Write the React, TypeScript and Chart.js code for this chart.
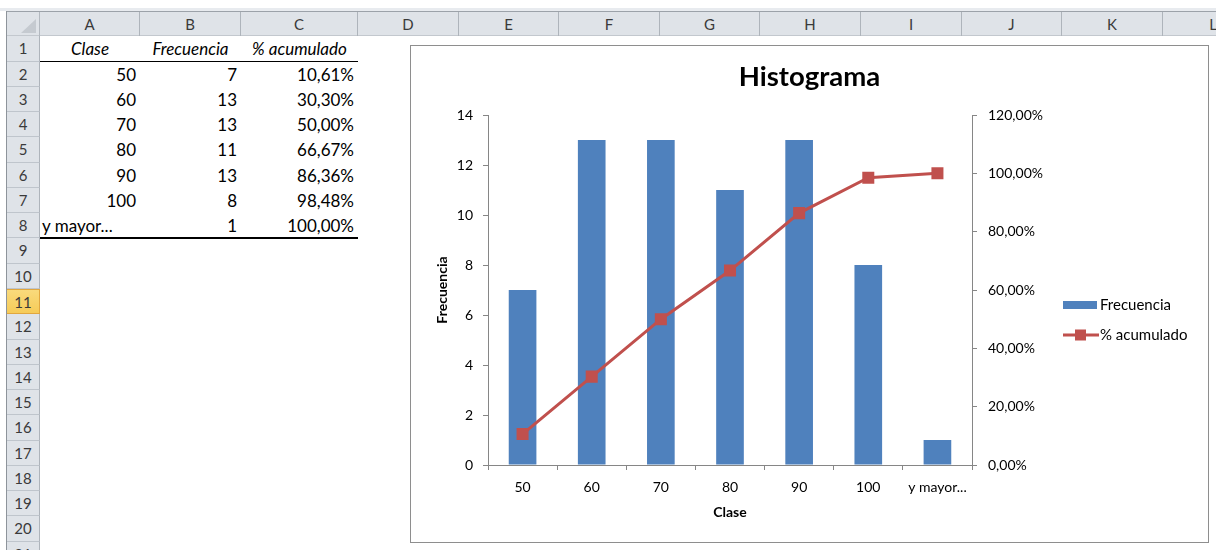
import React, { useEffect, useRef } from "react";
import { Chart, registerables } from "chart.js";

Chart.register(...registerables);

// ---------- data ----------
const categories = ["50", "60", "70", "80", "90", "100", "y mayor..."];
const frecuencia = [7, 13, 13, 11, 13, 8, 1];
const acumulado = [10.61, 30.3, 50.0, 66.67, 86.36, 98.48, 100.0];
const tableHeaders = ["Clase", "Frecuencia", "% acumulado"];
const columnLetters = ["A", "B", "C", "D", "E", "F", "G", "H", "I", "J", "K", "L"];
const leftAxisMax = 14;
const leftAxisStep = 2;
const rightAxisMax = 120;
const rightAxisStep = 20;
const chartTitle = "Histograma";
const xTitle = "Clase";
const yTitle = "Frecuencia";

const fmtPct = (v: number) => v.toFixed(2).replace(".", ",") + "%";

// ---------- layout ----------
const FONT = "Lato, 'Liberation Sans', sans-serif";
const colEdges = [40, 140, 241, 358, 459, 559, 660, 760, 861, 962, 1062, 1163, 1264];
const ROW_TOP = 36.4;
const ROW_H = 25.26;
const ROW_COUNT = 21;
const SELECTED_ROW = 11;

const BAR_COLOR = "#4F81BD";
const LINE_COLOR = "#C0504D";
const AXIS_COLOR = "#868686";

function HistogramChart() {
  const ref = useRef<HTMLCanvasElement>(null);
  useEffect(() => {
    if (!ref.current) return;
    const legendPlugin = {
      id: "excelLegend",
      afterDraw(chart: any) {
        const ctx = chart.ctx as CanvasRenderingContext2D;
        const ds = chart.data.datasets;
        const barDs = ds.find((d: any) => d.type === "bar");
        const lineDs = ds.find((d: any) => d.type === "line");
        ctx.save();
        ctx.font = `15px ${FONT}`;
        ctx.textBaseline = "middle";
        ctx.textAlign = "left";
        // bar entry
        ctx.fillStyle = barDs.backgroundColor;
        ctx.fillRect(652, 255, 34, 8);
        ctx.fillStyle = "#000";
        ctx.fillText(barDs.label, 689, 259);
        // line entry
        ctx.strokeStyle = lineDs.borderColor;
        ctx.lineWidth = 3;
        ctx.beginPath();
        ctx.moveTo(652, 289);
        ctx.lineTo(688, 289);
        ctx.stroke();
        ctx.fillStyle = lineDs.backgroundColor;
        ctx.fillRect(664, 283.5, 11, 11);
        ctx.fillStyle = "#000";
        ctx.fillText(lineDs.label, 689, 289);
        ctx.restore();
      },
    };

    const tickFont = { family: FONT, size: 14 };
    const titleFont = { family: FONT, size: 14, weight: "bold" as const };

    const chart = new Chart(ref.current, {
      data: {
        labels: categories,
        datasets: [
          {
            type: "line",
            label: "% acumulado",
            data: acumulado,
            yAxisID: "y1",
            borderColor: LINE_COLOR,
            backgroundColor: LINE_COLOR,
            borderWidth: 3,
            pointStyle: "rect",
            pointRadius: 8.5,
            pointBorderWidth: 0,
            pointBackgroundColor: LINE_COLOR,
            tension: 0,
            order: 0,
          } as any,
          {
            type: "bar",
            label: "Frecuencia",
            data: frecuencia,
            yAxisID: "y",
            backgroundColor: BAR_COLOR,
            barPercentage: 0.4,
            categoryPercentage: 1,
            order: 1,
          } as any,
        ],
      },
      options: {
        animation: false,
        responsive: false,
        maintainAspectRatio: false,
        layout: { padding: 0 },
        events: [],
        plugins: {
          legend: { display: false },
          tooltip: { enabled: false },
          title: {
            display: true,
            text: chartTitle,
            color: "#000",
            font: { family: FONT, size: 27.5, weight: "bold" },
            padding: { top: 14.5, bottom: 21.5 },
          },
        },
        scales: {
          x: {
            type: "category",
            offset: true,
            grid: {
              display: true,
              offset: true,
              drawOnChartArea: false,
              drawTicks: true,
              tickLength: 5,
              color: AXIS_COLOR,
            },
            border: { display: true, color: AXIS_COLOR },
            ticks: { font: tickFont, color: "#000", padding: 9, maxRotation: 0, autoSkip: false },
            title: {
              display: true,
              text: xTitle,
              color: "#000",
              font: titleFont,
              padding: { top: 0, bottom: 21.6 },
            },
            afterFit: (s: any) => {
              s.height = 77;
            },
          },
          y: {
            type: "linear",
            position: "left",
            min: 0,
            max: leftAxisMax,
            grid: {
              display: true,
              drawOnChartArea: false,
              drawTicks: true,
              tickLength: 5,
              color: AXIS_COLOR,
            },
            border: { display: true, color: AXIS_COLOR },
            ticks: { stepSize: leftAxisStep, font: tickFont, color: "#000", padding: 10 },
            title: {
              display: true,
              text: yTitle,
              color: "#000",
              font: titleFont,
              padding: { top: 22.6, bottom: 0 },
            },
            afterFit: (s: any) => {
              s.width = 77;
            },
          },
          y1: {
            type: "linear",
            position: "right",
            min: 0,
            max: rightAxisMax,
            grid: {
              display: true,
              drawOnChartArea: false,
              drawTicks: true,
              tickLength: 5,
              color: AXIS_COLOR,
            },
            border: { display: true, color: AXIS_COLOR },
            ticks: {
              stepSize: rightAxisStep,
              font: tickFont,
              color: "#000",
              padding: 11,
              callback: (v: any) => fmtPct(Number(v)),
            },
            afterFit: (s: any) => {
              s.width = 236;
            },
          },
        },
      },
      plugins: [legendPlugin],
    } as any);
    return () => chart.destroy();
  }, []);
  return <canvas ref={ref} width={797} height={496} style={{ display: "block", width: 797, height: 496 }} />;
}

function Sheet() {
  const els: React.ReactNode[] = [];
  const rowTop = (r: number) => ROW_TOP + (r - 1) * ROW_H;

  // top band
  els.push(<div key="band" style={{ position: "absolute", left: 0, top: 8, width: 1216, height: 3, background: "#E8EBEF" }} />);
  // header row background
  els.push(
    <div
      key="hdr"
      style={{
        position: "absolute",
        left: 7,
        top: 11,
        width: 1216,
        height: 25.4,
        background: "#DFE3E8",
        borderTop: "1px solid #9CA2A9",
        borderBottom: "1px solid #C3C8CE",
        boxSizing: "border-box",
      }}
    />
  );
  // left vertical line
  els.push(<div key="vl" style={{ position: "absolute", left: 6, top: 11, width: 1, height: 540, background: "#8E949B" }} />);
  // corner
  els.push(
    <div
      key="corner"
      style={{ position: "absolute", left: 7, top: 12, width: 33, height: 24, borderRight: "1px solid #B3B9C0", boxSizing: "border-box" }}
    />
  );
  els.push(
    <div
      key="tri"
      style={{
        position: "absolute",
        left: 21,
        top: 19,
        width: 0,
        height: 0,
        borderBottom: "14px solid #C5CAD0",
        borderLeft: "15px solid transparent",
      }}
    />
  );
  // column headers
  columnLetters.forEach((c, i) => {
    const l = colEdges[i];
    const w = colEdges[i + 1] - l;
    els.push(
      <div
        key={"c" + c}
        style={{
          position: "absolute",
          left: l,
          top: 12,
          width: w,
          height: 24,
          lineHeight: "24px",
          textAlign: "center",
          fontSize: 15,
          color: "#3A3A3A",
          borderRight: "1px solid #AEB4BB",
          boxSizing: "border-box",
        }}
      >
        {c}
      </div>
    );
  });
  // row headers
  for (let r = 1; r <= ROW_COUNT; r++) {
    const sel = r === SELECTED_ROW;
    els.push(
      <div
        key={"r" + r}
        style={{
          position: "absolute",
          left: 7,
          top: rowTop(r),
          width: 33,
          height: ROW_H,
          lineHeight: ROW_H + "px",
          textAlign: "center",
          fontSize: 15,
          color: "#3A3A3A",
          background: sel ? "linear-gradient(#F9DA7C, #F6CB58)" : "#DFE3E8",
          borderBottom: sel ? "1px solid #E1A73F" : "1px solid #BFC5CC",
          borderTop: sel ? "1px solid #E1A73F" : "none",
          borderRight: sel ? "1px solid #E1A73F" : "1px solid #AEB4BB",
          boxSizing: "border-box",
        }}
      >
        {r}
      </div>
    );
  }
  // table cells
  const cellStyle = (col: number, row: number, align: "left" | "right" | "center", italic = false): React.CSSProperties => ({
    position: "absolute",
    left: colEdges[col] + 2,
    top: rowTop(row),
    width: colEdges[col + 1] - colEdges[col] - 6,
    height: ROW_H,
    lineHeight: ROW_H + "px",
    textAlign: align,
    fontSize: 17,
    fontStyle: italic ? "italic" : "normal",
    color: "#000",
    whiteSpace: "nowrap",
    overflow: "visible",
  });
  tableHeaders.forEach((h, i) => {
    els.push(
      <div key={"h" + i} style={{ ...cellStyle(i, 1, "center", true), left: colEdges[i], width: colEdges[i + 1] - colEdges[i] }}>
        {h}
      </div>
    );
  });
  categories.forEach((cat, i) => {
    const row = i + 2;
    const isNum = !isNaN(Number(cat));
    els.push(
      <div key={"a" + i} style={isNum ? cellStyle(0, row, "right") : { ...cellStyle(0, row, "left"), left: colEdges[0] + 2 }}>
        {cat}
      </div>
    );
    els.push(
      <div key={"b" + i} style={cellStyle(1, row, "right")}>
        {frecuencia[i]}
      </div>
    );
    els.push(
      <div key={"p" + i} style={cellStyle(2, row, "right")}>
        {fmtPct(acumulado[i])}
      </div>
    );
  });
  // borders under header row and last row
  els.push(
    <div key="b1" style={{ position: "absolute", left: colEdges[0], top: rowTop(2) - 1, width: colEdges[3] - colEdges[0], height: 1, background: "#000" }} />
  );
  els.push(
    <div
      key="b8"
      style={{ position: "absolute", left: colEdges[0], top: rowTop(9) - 1.5, width: colEdges[3] - colEdges[0], height: 2, background: "#000" }}
    />
  );
  return <>{els}</>;
}

export default function App() {
  return (
    <div
      style={{
        position: "absolute",
        left: 0,
        top: 0,
        width: 1216,
        height: 550,
        overflow: "hidden",
        background: "#fff",
        fontFamily: FONT,
      }}
    >
      <Sheet />
      <div
        style={{
          position: "absolute",
          left: 410,
          top: 45,
          width: 797,
          height: 496,
          border: "1px solid #8E8E8E",
          background: "#fff",
        }}
      >
        <HistogramChart />
      </div>
    </div>
  );
}
